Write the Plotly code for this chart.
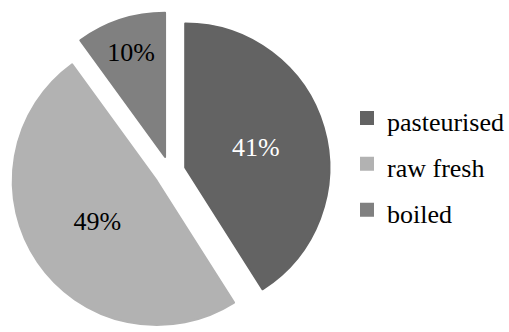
import plotly.graph_objects as go

categories = ["pasteurised", "raw fresh", "boiled"]
values = [41, 49, 10]
colors = ["#636363", "#b2b2b2", "#808080"]
label_colors = ["#ffffff", "#000000", "#000000"]

SERIF = "Times New Roman, Liberation Serif, DejaVu Serif, serif"

# legend entries keep the category text; the span only sets the glyph size
legend_labels = [f"<span style='font-size:26px'>{c}</span>" for c in categories]

fig = go.Figure(
    go.Pie(
        labels=legend_labels,
        values=values,
        sort=False,
        direction="clockwise",
        rotation=0,
        pull=[0.11, 0.11, 0.11],
        marker=dict(colors=colors, line=dict(width=2, color=colors)),
        textinfo="percent",
        texttemplate="%{value}%",
        textposition="inside",
        insidetextorientation="horizontal",
        textfont=dict(family=SERIF, size=26, color=label_colors),
        domain=dict(x=[0, 344 / 509], y=[0, 1]),
    )
)

fig.update_layout(
    width=509,
    height=332,
    margin=dict(l=0, r=0, t=12, b=0),
    paper_bgcolor="white",
    plot_bgcolor="white",
    font=dict(family=SERIF, size=26, color="#000000"),
    legend=dict(
        x=0.69,
        xanchor="left",
        y=0.525,
        yanchor="middle",
        font=dict(family=SERIF, size=33, color="#000000"),
        bgcolor="rgba(0,0,0,0)",
    ),
    showlegend=True,
)

fig.write_html("out.html")
